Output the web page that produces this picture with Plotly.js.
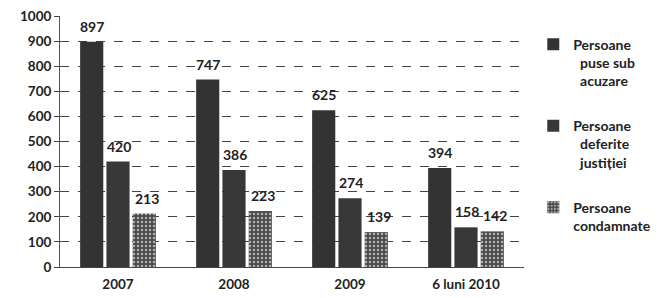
<!DOCTYPE html>
<html><head><meta charset="utf-8">
<script src="https://cdn.plot.ly/plotly-3.0.1.min.js"></script>
<style>html,body{margin:0;padding:0;background:#fff}#c{width:668px;height:298px}</style>
</head><body><div id="c"></div>
<script>
const categories = ["2007", "2008", "2009", "6 luni 2010"];
const puseSubAcuzare = [897, 747, 625, 394];
const deferiteJustitiei = [420, 386, 274, 158];
const condamnate = [213, 223, 139, 142];
const seriesNames = ["Persoane<br>&nbsp;&nbsp;puse sub<br>&nbsp;&nbsp;acuzare", "Persoane<br>&nbsp;&nbsp;deferite<br>&nbsp;&nbsp;justiției", "Persoane<br>condamnate"];
const yTicks = [0,100,200,300,400,500,600,700,800,900,1000];

const font = {family: "Lato, 'Open Sans', sans-serif", size: 13, color: "#222"};
const seriesValues = [puseSubAcuzare, deferiteJustitiei, condamnate];
const groupShift = [-27.5, 0, 27.5];
function bar(vals, name, i, marker){
  return {type:"bar", x:categories, y:vals, name:name, legendgroup:"g"+i,
    marker: marker};
}
const data = [
  bar(puseSubAcuzare, seriesNames[0], 0, {color:"#333333"}),
  bar(deferiteJustitiei, seriesNames[1], 1, {color:"#383838"}),
  bar(condamnate, seriesNames[2], 2, {color:"#555555", pattern:{shape:".", fgcolor:"#b0b0b0", bgcolor:"#4a4a4a", size:4, solidity:0.3}})
];
const annotations = [];
seriesValues.forEach((vals, s) => vals.forEach((v, k) => annotations.push({
  x: k, y: v, xref:"x", yref:"y", text: String(v), showarrow:false,
  xanchor:"center", yanchor:"bottom", xshift: groupShift[s] + 1, yshift: 5,
  font:{family:font.family, size:14, color:"#222", weight:700}
})));
const layout = {
  width:668, height:298,
  margin:{l:60, r:120, t:16, b:31},
  paper_bgcolor:"#fff", plot_bgcolor:"#fff",
  font: font,
  barmode:"group", bargap:0.32, bargroupgap:0.12,
  showlegend:true, annotations: annotations,
  legend:{x:1.02, xanchor:"left", y:0.95, yanchor:"top", traceorder:"grouped", tracegroupgap:24, valign:"top",
    font:{family:font.family, size:14, color:"#222", weight:700}, itemwidth:30},
  xaxis:{type:"category", categoryarray:categories, categoryorder:"array", tickfont:{family:font.family, size:13.5, color:"#222", weight:700}, showline:true, linecolor:"#444", linewidth:1.2, ticks:"", ticklabelstandoff:5},
  yaxis:{range:[0,1000], tickvals:yTicks, ticktext:yTicks.map(String),
    tickfont:{family:font.family, size:13.5, color:"#222", weight:700},
    showline:true, linecolor:"#555", ticks:"outside", ticklen:5, tickcolor:"#444",
    showgrid:true, gridcolor:"#444", griddash:"dash", gridwidth:1, zeroline:false}
};
Plotly.newPlot("c", data, layout, {displayModeBar:false, staticPlot:true});
</script></body></html>
